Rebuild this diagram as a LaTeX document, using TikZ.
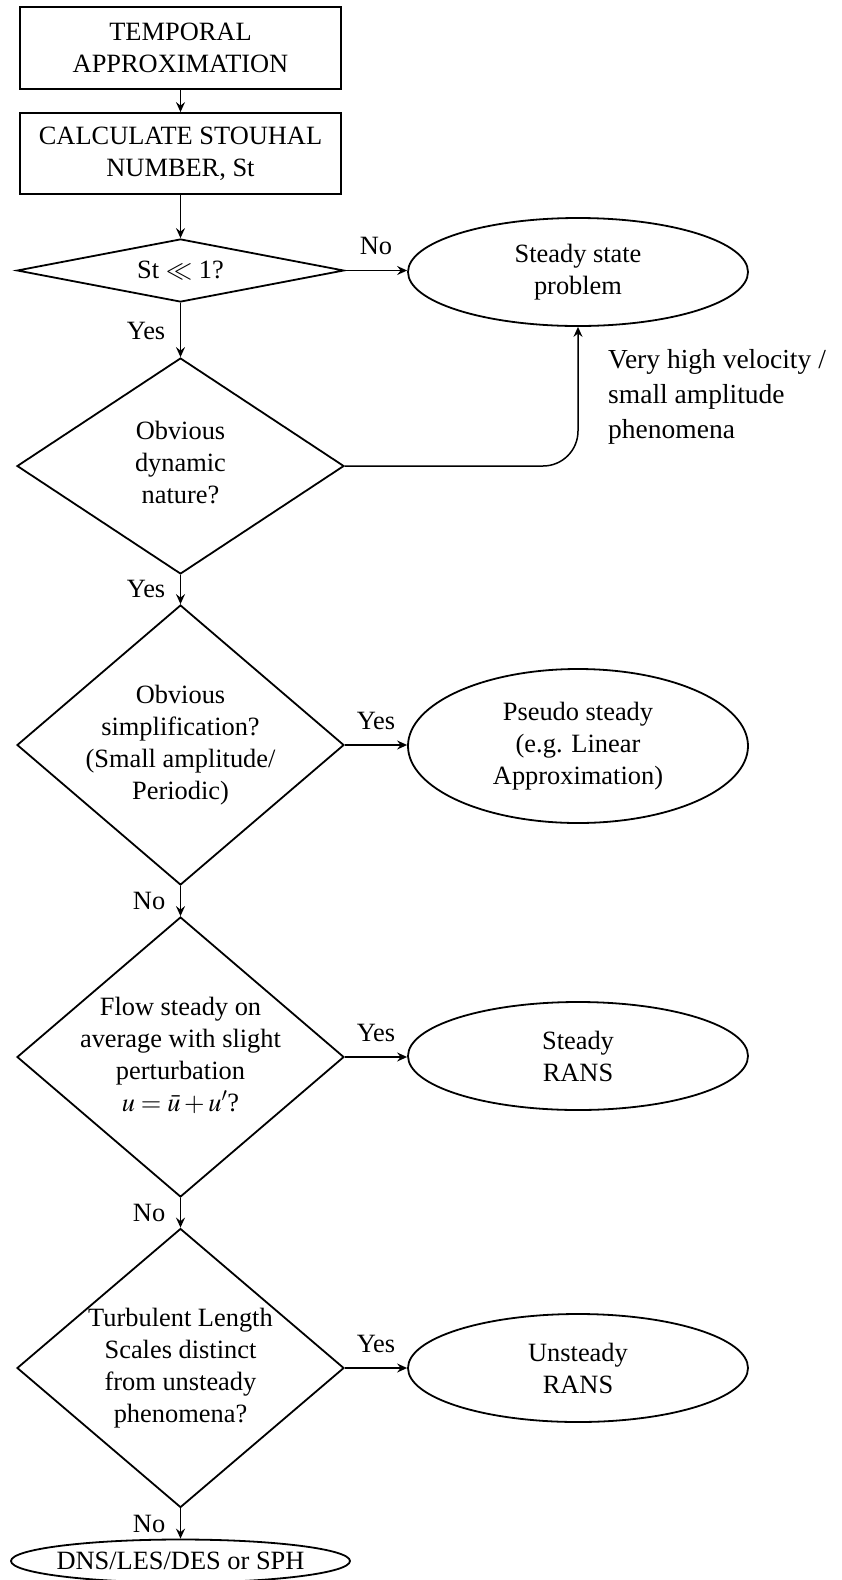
\documentclass[tikz,border=0pt]{standalone}
\usepackage{mathptmx}
\usepackage{fontspec}
\setmainfont{Liberation Serif}
\usetikzlibrary{shapes.geometric,arrows.meta}
\begin{document}
\begin{tikzpicture}[x=1pt,y=-1pt,
  every node/.style={font=\fontsize{26.4}{32}\selectfont},
  shp/.style={draw, line width=1.8pt, inner sep=0pt},
  boxshape/.style={shp, rectangle, minimum width=321pt, align=center},
  dia/.style={shp, diamond, minimum width=327pt},
  ell/.style={shp, ellipse, minimum width=340pt, align=center},
  txt/.style={align=center, inner sep=0pt},
  arr/.style={line width=1.5pt, -{Stealth[length=10pt,width=9pt,inset=3.5pt]}},
  vlbl/.style={anchor=east, inner sep=0pt, xshift=-14.5pt},
  hlbl/.style={anchor=base, inner sep=0pt, yshift=16pt},
  note/.style={font=\fontsize{27.5}{35}\selectfont, align=left, anchor=north west, inner sep=0pt}
]
\useasboundingbox (0,0) rectangle (842,1580);

% shapes
\node[boxshape, minimum height=82pt] (b1) at (180.5,48) {TEMPORAL\\APPROXIMATION};
\node[boxshape, minimum height=81pt] (b2) at (180.5,153.5) {CALCULATE STOUHAL\\NUMBER, St};
\node[dia, minimum height=63pt] (d1) at (180.5,270.5) {};
\node[txt] (t1) at (d1) {St $\ll$ 1?};
\node[ell, minimum height=108pt] (e1) at (578,272) {Steady state\\problem};
\node[dia, minimum height=216pt] (d2) at (180.5,466) {};
\node[txt] (t2) at (180.5,463) {Obvious\\dynamic\\nature?};
\node[dia, minimum height=280pt] (d3) at (180.5,745) {};
\node[txt] (t3) at (d3) {Obvious\\simplification?\\(Small amplitude/\\Periodic)};
\node[ell, minimum height=154pt] (e2) at (578,746) {Pseudo steady\\(e.g. Linear\\Approximation)};
\node[dia, minimum height=280pt] (d4) at (180.5,1057) {};
\node[txt] (t4) at (180.5,1055) {Flow steady on\\average with slight\\perturbation\\$u=\bar{u}+u'$?};
\node[ell, minimum height=108pt] (e3) at (578,1056) {Steady\\RANS};
\node[dia, minimum height=279pt] (d5) at (180.5,1368) {};
\node[txt] (t5) at (d5) {Turbulent Length\\Scales distinct\\from unsteady\\phenomena?};
\node[ell, minimum height=108pt] (e4) at (578,1368) {Unsteady\\RANS};
\node[shp, ellipse, minimum width=339pt, minimum height=43pt] (e5) at (180.5,1561) {};
\node[txt] (t6) at (e5) {DNS/LES/DES or SPH};

% note
\node[note] (n1) at (608,349) {Very high velocity /\\small amplitude\\phenomena};

% connectors
\draw[arr] (b1) -- (b2);
\draw[arr] (b2) -- (d1);
\draw[arr] (d1.east) -- node[hlbl] (l1) {No} (d1.east -| e1.west);
\draw[arr] (d1) -- node[vlbl, pos=0.52] (l2) {Yes} (d2);
\draw[arr, rounded corners=35pt] (d2.east) -| (e1.south);
\draw[arr] (d2) -- node[vlbl, pos=0.47] (l3) {Yes} (d3);
\draw[arr] (d3.east) -- node[hlbl] (l4) {Yes} (d3.east -| e2.west);
\draw[arr] (d3) -- node[vlbl, pos=0.5] (l5) {No} (d4);
\draw[arr] (d4.east) -- node[hlbl] (l6) {Yes} (d4.east -| e3.west);
\draw[arr] (d4) -- node[vlbl, pos=0.5] (l7) {No} (d5);
\draw[arr] (d5.east) -- node[hlbl] (l8) {Yes} (d5.east -| e4.west);
\draw[arr] (d5) -- node[vlbl, pos=0.5] (l9) {No} (e5);
\end{tikzpicture}
\end{document}
